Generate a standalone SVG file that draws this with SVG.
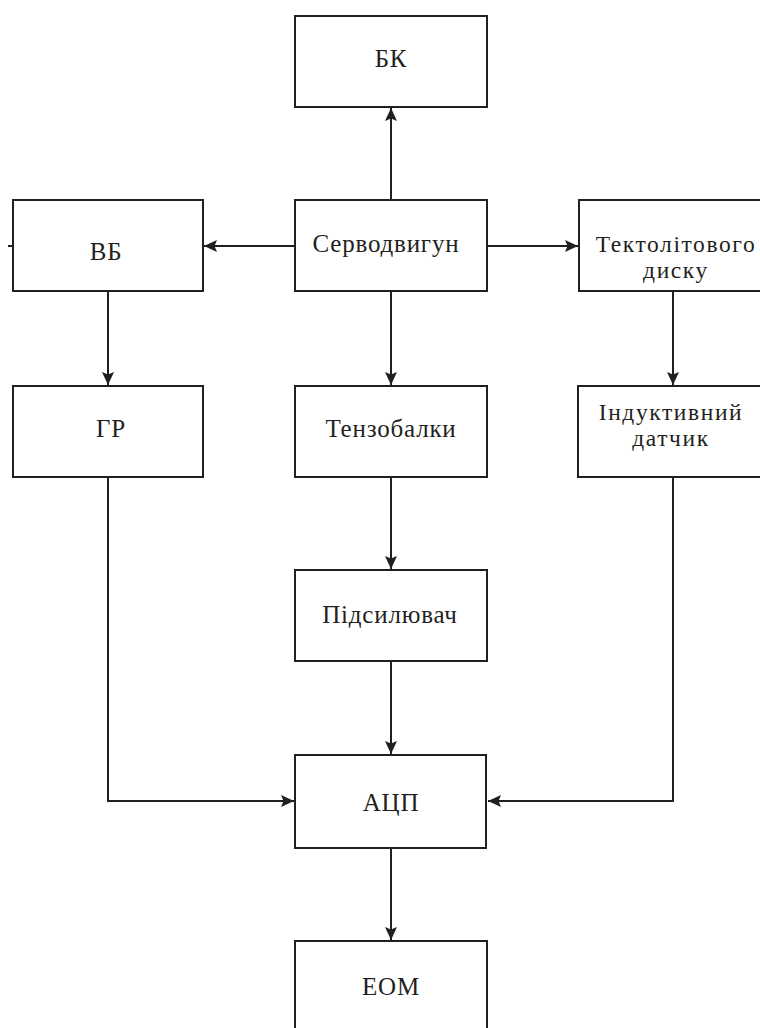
<svg xmlns="http://www.w3.org/2000/svg" width="760" height="1028" viewBox="0 0 760 1028">
<defs>
<marker id="arr" markerWidth="13" markerHeight="12" refX="13" refY="6" orient="auto" markerUnits="userSpaceOnUse">
<path d="M0,0 L13,6 L0,12 L2.5,6 Z" fill="#231f20"/>
</marker>
</defs>
<style>
.box{fill:#fff;stroke:#231f20;stroke-width:2}
text{font-family:'Liberation Serif','Times New Roman',serif;font-size:25px;fill:#231f20;text-anchor:middle;letter-spacing:0.8px}
text.m{font-size:23.5px;letter-spacing:1.6px}
.c{fill:none;stroke:#231f20;stroke-width:2}
</style>
<rect width="760" height="1028" fill="#fff"/>
<g id="connectors">
<line class="c" x1="391" y1="200" x2="391" y2="108" marker-end="url(#arr)"/>
<line class="c" x1="295" y1="246" x2="204" y2="246" marker-end="url(#arr)"/>
<line class="c" x1="487" y1="246" x2="578" y2="246" marker-end="url(#arr)"/>
<line class="c" x1="391" y1="291" x2="391" y2="385" marker-end="url(#arr)"/>
<line class="c" x1="108" y1="291" x2="108" y2="385" marker-end="url(#arr)"/>
<line class="c" x1="673" y1="291" x2="673" y2="385" marker-end="url(#arr)"/>
<line class="c" x1="391" y1="477" x2="391" y2="569" marker-end="url(#arr)"/>
<line class="c" x1="391" y1="661" x2="391" y2="754" marker-end="url(#arr)"/>
<polyline class="c" points="108,477 108,801 294,801" marker-end="url(#arr)"/>
<polyline class="c" points="673,477 673,801 488,801" marker-end="url(#arr)"/>
<line class="c" x1="391" y1="848" x2="391" y2="940" marker-end="url(#arr)"/>
<line class="c" x1="8" y1="246" x2="13" y2="246"/>
</g>
<g id="bk"><rect class="box" x="295" y="16" width="192" height="91"/><text x="391" y="67">БК</text></g>
<g id="servo"><rect class="box" x="295" y="200" width="192" height="91"/><text x="386" y="252">Серводвигун</text></g>
<g id="vb"><rect class="box" x="13" y="200" width="190" height="91"/><text x="106" y="260">ВБ</text></g>
<g id="tekto"><rect class="box" x="579" y="200" width="192" height="91"/><text class="m" x="676" y="252">Тектолітового</text><text class="m" x="676" y="278">диску</text></g>
<g id="gr"><rect class="box" x="13" y="386" width="190" height="91"/><text x="111" y="437">ГР</text></g>
<g id="tenzo"><rect class="box" x="295" y="386" width="192" height="91"/><text x="391" y="437">Тензобалки</text></g>
<g id="ind"><rect class="box" x="578" y="386" width="192" height="91"/><text class="m" x="671" y="420">Індуктивний</text><text class="m" x="671" y="446">датчик</text></g>
<g id="pidsyl"><rect class="box" x="295" y="570" width="192" height="91"/><text x="390" y="623">Підсилювач</text></g>
<g id="adc"><rect class="box" x="295" y="755" width="191" height="93"/><text x="391" y="811">АЦП</text></g>
<g id="eom"><rect class="box" x="295" y="941" width="192" height="95"/><text x="391" y="995">ЕОМ</text></g>
</svg>
